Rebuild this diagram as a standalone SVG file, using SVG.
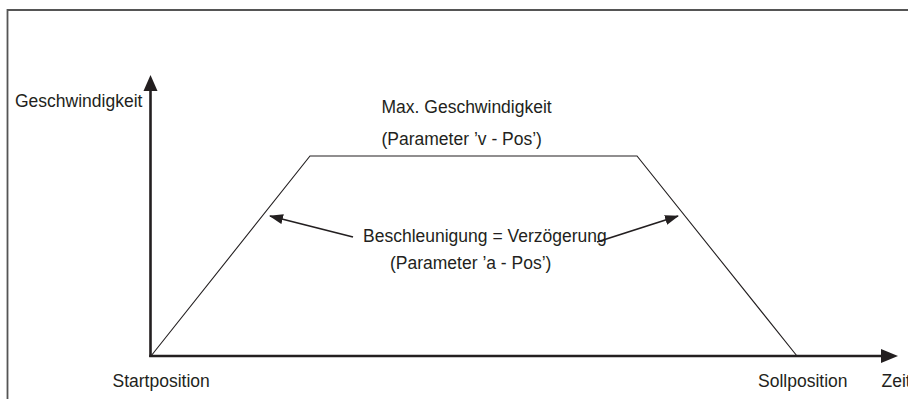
<svg xmlns="http://www.w3.org/2000/svg" width="908" height="399" viewBox="0 0 908 399">
<style>
text{font-family:"Liberation Sans",Arial,sans-serif;font-size:17.5px;fill:#231f20}
.axis{stroke:#231f20;stroke-width:2.6;fill:none}
.curve{stroke:#231f20;stroke-width:1.1;fill:none}
.ptr{stroke:#231f20;stroke-width:1.8;fill:none;marker-end:url(#ah)}
.head{fill:#231f20}
</style>
<defs>
<marker id="ah" viewBox="0 0 14 10" refX="13" refY="5" markerWidth="14" markerHeight="10" markerUnits="userSpaceOnUse" orient="auto">
<path d="M0,0 L14,5 L0,10 Z" fill="#231f20"/>
</marker>
</defs>
<rect x="0" y="0" width="908" height="399" fill="#fff"/>
<path d="M7.5,1000 V10 H1000" stroke="#555" stroke-width="1.8" fill="none"/>
<g id="axes">
<line class="axis" x1="150.5" y1="357" x2="150.5" y2="89"/>
<polygon class="head" points="150.5,75 143.5,91 157.5,91"/>
<line class="axis" x1="149.2" y1="356" x2="884" y2="356"/>
<polygon class="head" points="898,356 881,349 881,363"/>
</g>
<g id="profile">
<polyline class="curve" points="151,356 310,156 637,156 797,356"/>
</g>
<g id="connectors">
<line class="ptr" x1="353" y1="237" x2="270" y2="216"/>
<line class="ptr" x1="597" y1="242" x2="678" y2="216"/>
</g>
<g id="label-geschwindigkeit"><text x="15" y="107">Geschwindigkeit</text></g>
<g id="label-max"><text x="381.5" y="113">Max. Geschwindigkeit</text><text x="381.5" y="145">(Parameter ’v - Pos’)</text></g>
<g id="label-beschleunigung"><text x="363" y="242">Beschleunigung = Verzögerung</text><text x="390" y="269">(Parameter ’a - Pos’)</text></g>
<g id="label-start"><text x="112.5" y="387">Startposition</text></g>
<g id="label-soll"><text x="758" y="387">Sollposition</text></g>
<g id="label-zeit"><text x="881.5" y="387">Zeit</text></g>
</svg>
